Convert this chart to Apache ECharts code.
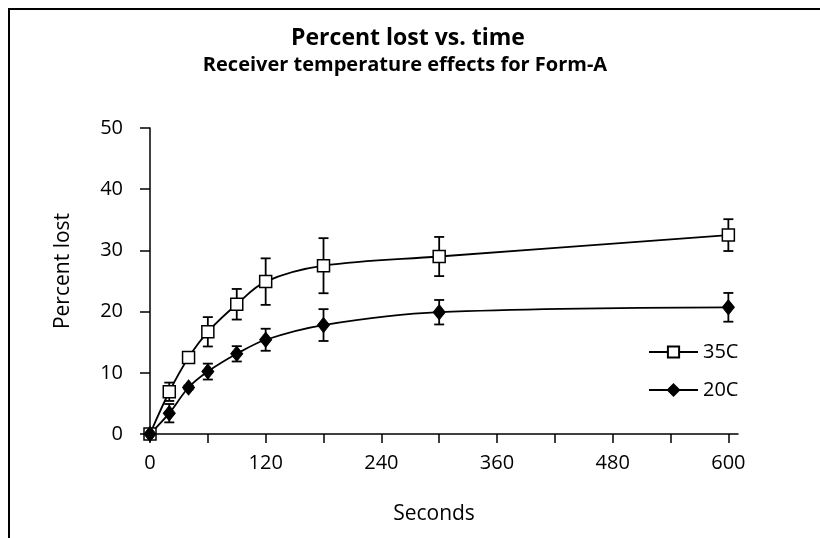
<!DOCTYPE html>
<html>
<head>
<meta charset="utf-8">
<script src="https://cdn.jsdelivr.net/npm/echarts@6/dist/echarts.min.js"></script>
<style>html,body{margin:0;padding:0;background:#fff}#c{width:820px;height:538px}</style>
</head>
<body>
<div id="c"></div>
<script>
var seconds = [0, 20, 40, 60, 90, 120, 180, 300, 600];
var lost35 = [0, 6.9, 12.5, 16.7, 21.2, 24.9, 27.5, 29.0, 32.5];
var err35 = [0.3, 1.5, 0.4, 2.4, 2.5, 3.8, 4.5, 3.2, 2.6];
var lost20 = [0, 3.4, 7.6, 10.2, 13.1, 15.4, 17.8, 19.9, 20.7];
var err20 = [0.2, 1.5, 0.3, 1.3, 1.25, 1.8, 2.6, 2.0, 2.35];
var xTickValues = [0, 60, 120, 180, 240, 300, 360, 420, 480, 540, 600];
var xLabelValues = [0, 120, 240, 360, 480, 600];
var seriesNames = ['35C', '20C'];
var titleText = 'Percent lost vs. time';
var subtitleText = 'Receiver temperature effects for Form-A';

function pts(vals) { return seconds.map(function (s, i) { return [s, vals[i]]; }); }
function errs(vals, e) { return seconds.map(function (s, i) { return [s, vals[i] - e[i], vals[i] + e[i]]; }); }

function errRender(params, api) {
  var x = api.value(0);
  var lo = api.coord([x, api.value(1)]);
  var hi = api.coord([x, api.value(2)]);
  var hw = 5;
  var st = { stroke: '#000', lineWidth: 1.8 };
  return {
    type: 'group',
    children: [
      { type: 'line', shape: { x1: lo[0], y1: lo[1], x2: hi[0], y2: hi[1] }, style: st },
      { type: 'line', shape: { x1: lo[0] - hw, y1: lo[1], x2: lo[0] + hw, y2: lo[1] }, style: st },
      { type: 'line', shape: { x1: hi[0] - hw, y1: hi[1], x2: hi[0] + hw, y2: hi[1] }, style: st }
    ]
  };
}

var font = 'Open Sans';
var chart = echarts.init(document.getElementById('c'), null, { renderer: 'canvas' });
chart.setOption({
  animation: false,
  backgroundColor: '#fff',
  title: [
    { text: titleText, left: 403, top: 22, textAlign: 'center',
      textStyle: { fontFamily: font, fontWeight: 'bold', fontSize: 23, color: '#000' } },
    { text: subtitleText, left: 400, top: 50, textAlign: 'center',
      textStyle: { fontFamily: font, fontWeight: 'bold', fontSize: 20, color: '#000' } }
  ],
  graphic: [
    { type: 'polyline', shape: { points: [[9, 538], [9, 9], [820, 9]] },
      style: { stroke: '#000', lineWidth: 2, fill: null } }
  ],
  legend: {
    orient: 'vertical',
    left: 643,
    top: 337,
    itemWidth: 49,
    itemHeight: 14,
    itemGap: 18,
    data: seriesNames,
    textStyle: { fontFamily: font, fontSize: 20, color: '#000' }
  },
  grid: { left: 150, right: 82, top: 128, bottom: 104 },
  xAxis: {
    type: 'value', min: 0, max: 610,
    name: 'Seconds', nameLocation: 'middle', nameGap: 70,
    nameTextStyle: { fontFamily: font, fontSize: 21, color: '#000', padding: [0, 20, 0, 0] },
    axisLine: { lineStyle: { color: '#000', width: 1.5 } },
    axisTick: { show: true, length: 9, lineStyle: { color: '#000', width: 1.5 }, customValues: xTickValues },
    axisLabel: { fontFamily: font, fontSize: 20, color: '#000', margin: 19, customValues: xLabelValues },
    splitLine: { show: false }
  },
  yAxis: {
    type: 'value', min: 0, max: 50, interval: 10,
    name: 'Percent lost', nameLocation: 'middle', nameGap: 76, nameRotate: 90,
    nameTextStyle: { fontFamily: font, fontSize: 21, color: '#000', padding: [0, 0, 0, 20] },
    axisLine: { show: true, lineStyle: { color: '#000', width: 1.5 } },
    axisTick: { show: true, length: 10, lineStyle: { color: '#000', width: 1.5 } },
    axisLabel: { fontFamily: font, fontSize: 20, color: '#000', margin: 27 },
    splitLine: { show: false }
  },
  series: [
    { type: 'custom', name: 'err35', renderItem: errRender, data: errs(lost35, err35), z: 2, encode: { x: 0, y: [1, 2] }, silent: true },
    { type: 'custom', name: 'err20', renderItem: errRender, data: errs(lost20, err20), z: 2, encode: { x: 0, y: [1, 2] }, silent: true },
    { type: 'line', name: seriesNames[0], data: pts(lost35), smooth: 0.35, z: 3,
      symbol: 'rect', symbolSize: 12,
      lineStyle: { color: '#000', width: 1.8 },
      itemStyle: { color: '#fff', borderColor: '#000', borderWidth: 1.5 } },
    { type: 'line', name: seriesNames[1], data: pts(lost20), smooth: 0.35, z: 3,
      symbol: 'diamond', symbolSize: [12, 15],
      lineStyle: { color: '#000', width: 1.8 },
      itemStyle: { color: '#000', borderColor: '#000', borderWidth: 1 } }
  ]
});
</script>
</body>
</html>
